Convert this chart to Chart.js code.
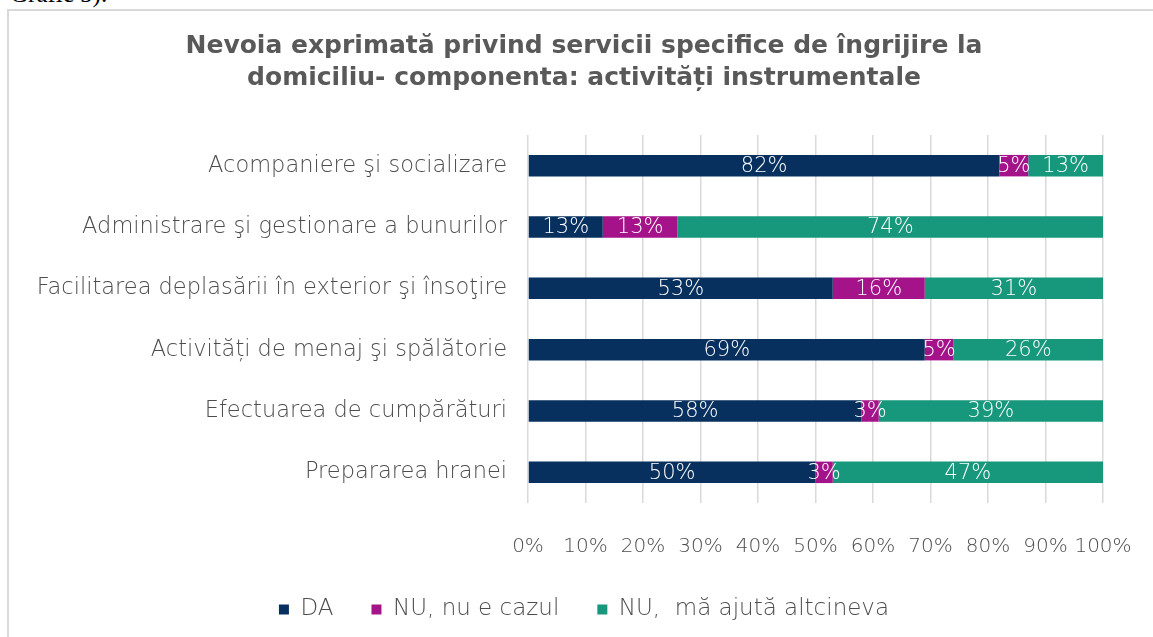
<!DOCTYPE html>
<html>
<head>
<meta charset="utf-8">
<script src="https://cdn.jsdelivr.net/npm/chart.js@4"></script>
<style>
    html, body { margin: 0; padding: 0; background: #fff; overflow: hidden; }
    #page { position: relative; width: 1153px; height: 637px; }
    #caption {
        position: absolute; left: 10px; top: -19px;
        font-family: 'Liberation Serif', serif; font-size: 25px; color: #000;
        line-height: 25px; white-space: nowrap;
    }
    #frame {
        position: absolute; left: 7px; top: 9px; width: 1200px; height: 700px;
        border: 2px solid #d9d9d9; box-sizing: border-box;
    }
    #chart-box { position: absolute; left: 0; top: 0; width: 1153px; height: 637px; }
</style>
</head>
<body>
<div id="page">
    <div id="caption">Grafic 5).</div>
    <div id="frame"></div>
    <div id="chart-box"><canvas id="need-chart" width="1153" height="637"></canvas></div>
</div>
<script>
// categorii (de sus in jos)
const categories = [
    'Acompaniere şi socializare',
    'Administrare şi gestionare a bunurilor',
    'Facilitarea deplasării în exterior şi însoţire',
    'Activități de menaj şi spălătorie',
    'Efectuarea de cumpărături',
    'Prepararea hranei'
];

// serii (%)
const daValues = [82, 13, 53, 69, 58, 50];
const nuCazulValues = [5, 13, 16, 5, 3, 3];
const nuAltcinevaValues = [13, 74, 31, 26, 39, 47];

const seriesNames = ['DA', 'NU, nu e cazul', 'NU,  mă ajută altcineva'];
const seriesColors = ['#08305e', '#a5138a', '#17977b'];

const titleLines = [
    'Nevoia exprimată privind servicii specifice de îngrijire la',
    'domiciliu- componenta: activități instrumentale'
];

const LIGHT = "'DejaVu Sans', 'Lato', sans-serif";
const TEXT_GREY = '#4d4d4d';

// etichete in mijlocul fiecarui segment
const segmentLabels = {
    id: 'segmentLabels',
    afterDatasetsDraw(chart) {
        const ctx = chart.ctx;
        ctx.save();
        ctx.font = `200 21px ${LIGHT}`;
        ctx.fillStyle = '#ffffff';
        ctx.textAlign = 'center';
        ctx.textBaseline = 'middle';
        chart.data.datasets.forEach((ds, i) => {
            const meta = chart.getDatasetMeta(i);
            meta.data.forEach((bar, j) => {
                const v = ds.data[j];
                if (!v) return;
                const cx = (bar.x + bar.base) / 2;
                ctx.fillText(v + '%', cx, bar.y + 1);
            });
        });
        ctx.restore();
    }
};

// titlul si legenda sunt centrate putin mai la dreapta decat zona graficului
const shiftBlocks = {
    id: 'shiftBlocks',
    afterLayout(chart) {
        chart.titleBlock.left += 35;
        chart.legend.left += 35;
    }
};

const ctx = document.getElementById('need-chart').getContext('2d');
new Chart(ctx, {
    type: 'bar',
    data: {
        labels: categories,
        datasets: [daValues, nuCazulValues, nuAltcinevaValues].map((vals, i) => ({
            label: seriesNames[i],
            data: vals,
            backgroundColor: seriesColors[i],
            borderWidth: 0,
            categoryPercentage: 1,
            barPercentage: 0.35
        }))
    },
    options: {
        indexAxis: 'y',
        responsive: false,
        animation: false,
        layout: { padding: { left: 30, right: 50, top: 0, bottom: 6 } },
        plugins: {
            title: {
                display: true,
                text: titleLines,
                color: '#595959',
                font: { family: "'DejaVu Sans', sans-serif", size: 25, weight: 'bold', lineHeight: 1.28 },
                padding: { top: 30, bottom: 41 }
            },
            legend: {
                position: 'bottom',
                labels: {
                    color: TEXT_GREY,
                    font: { family: LIGHT, size: 23, weight: '200' },
                    boxWidth: 10,
                    boxHeight: 10,
                    padding: 38
                }
            },
            tooltip: { enabled: false }
        },
        scales: {
            x: {
                stacked: true,
                min: 0,
                max: 100,
                ticks: {
                    stepSize: 10,
                    color: TEXT_GREY,
                    font: { family: LIGHT, size: 20, weight: '200' },
                    padding: 32,
                    maxRotation: 0,
                    autoSkip: false,
                    callback: v => v + '%'
                },
                grid: { color: '#d9d9d9', lineWidth: 1.5, drawTicks: false },
                border: { display: false },
                afterFit: scale => {
                    scale.height = 57;
                    scale.paddingLeft = 0;
                    scale.paddingRight = 0;
                }
            },
            y: {
                stacked: true,
                ticks: {
                    color: TEXT_GREY,
                    font: { family: LIGHT, size: 22.5, weight: '200' },
                    padding: 13
                },
                grid: { display: false },
                border: { display: false },
                afterFit: scale => { scale.width = 528 - 30; }
            }
        }
    },
    plugins: [segmentLabels, shiftBlocks]
});
</script>
</body>
</html>
